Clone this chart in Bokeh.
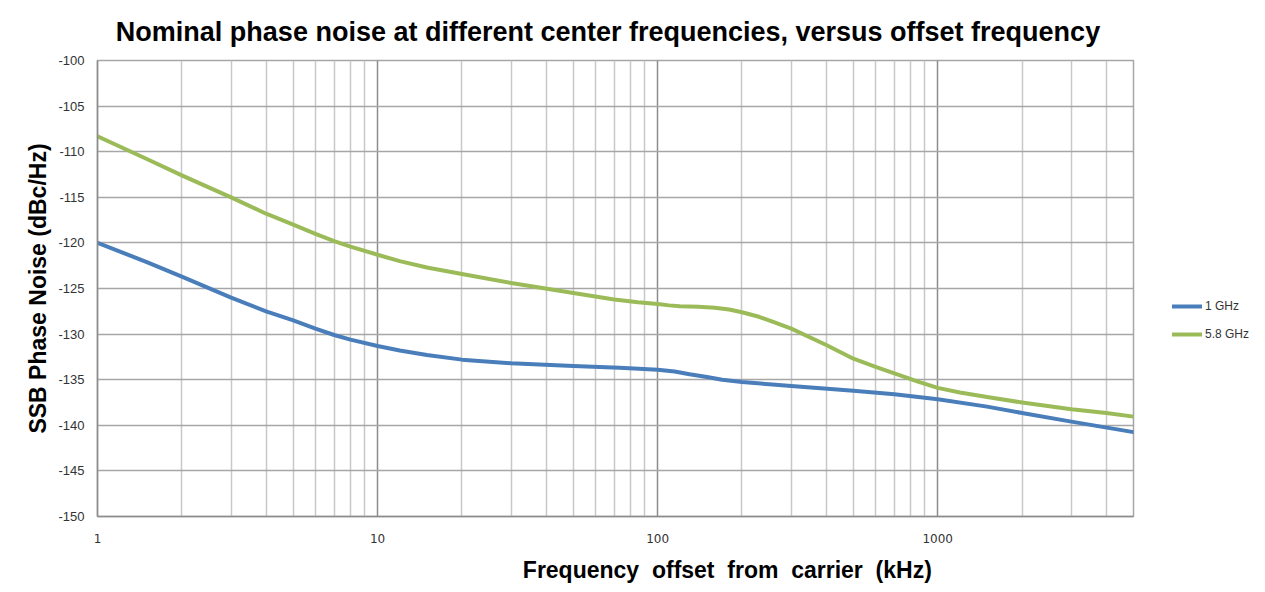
from bokeh.plotting import figure
from bokeh.models import FixedTicker, Legend, LegendItem, Title, ColumnDataSource
from bokeh.embed import file_html
from bokeh.resources import INLINE

# offset frequency (kHz) and SSB phase noise (dBc/Hz)
freq_1ghz = [1, 1.5, 2, 3, 4, 5, 6, 7, 8, 10, 12, 15, 20, 30, 50, 73, 100, 115, 130, 150, 170, 200, 250, 300, 500, 700, 1000, 1500, 2000, 3000, 5000]
pn_1ghz = [-120.0, -122.1, -123.7, -126.0, -127.5, -128.5, -129.4, -130.1, -130.6, -131.3, -131.8, -132.3, -132.8, -133.2, -133.5, -133.7, -133.9, -134.1, -134.4, -134.7, -135.0, -135.25, -135.5, -135.7, -136.2, -136.6, -137.15, -137.95, -138.65, -139.6, -140.75]

freq_58ghz = [1, 1.5, 2, 3, 4, 5, 6, 7, 8, 10, 12, 15, 20, 30, 50, 70, 85, 100, 110, 120, 140, 160, 180, 200, 230, 260, 300, 400, 500, 600, 730, 850, 1000, 1200, 1500, 2000, 3000, 4000, 5000]
pn_58ghz = [-108.3, -110.8, -112.6, -115.0, -116.8, -118.0, -119.0, -119.8, -120.4, -121.3, -122.0, -122.7, -123.4, -124.4, -125.5, -126.2, -126.5, -126.7, -126.85, -126.95, -127.0, -127.1, -127.3, -127.6, -128.1, -128.7, -129.4, -131.2, -132.7, -133.6, -134.5, -135.2, -135.9, -136.4, -136.9, -137.5, -138.25, -138.65, -139.05]

x_major = [1, 10, 100, 1000]
x_major_labels = ["1", "10", "100", "1000"]
x_minor = [2, 3, 4, 5, 6, 7, 8, 9, 20, 30, 40, 50, 60, 70, 80, 90,
           200, 300, 400, 500, 600, 700, 800, 900, 2000, 3000, 4000, 5000]
y_ticks = [-150, -145, -140, -135, -130, -125, -120, -115, -110, -105, -100]
y_tick_labels = ["-150", "-145", "-140", "-135", "-130", "-125", "-120", "-115", "-110", "-105", "-100"]

series_names = ["1 GHz", "5.8 GHz"]
series_colors = ["#4a7ebb", "#9bbb59"]

NB = "\u00a0"

p = figure(output_backend="svg", toolbar_location=None,
           x_axis_type="log", x_range=(1, 5000), y_range=(-150, -100),
           frame_width=1036, frame_height=456,
           min_border_left=97, min_border_right=116, min_border_top=60, min_border_bottom=60,
           background_fill_color="white", border_fill_color="white")

p.title = Title(text="Nominal phase noise at different center frequencies, versus offset frequency" + NB * 2,
                text_font="Liberation Sans", text_font_size="27px", text_font_style="bold",
                text_color="#000000", align="center", standoff=28)

p.xaxis.ticker = FixedTicker(ticks=x_major, minor_ticks=x_minor)
p.xaxis.major_label_overrides = {v: s for v, s in zip(x_major, x_major_labels)}
p.yaxis.ticker = FixedTicker(ticks=y_ticks)
p.yaxis.major_label_overrides = {v: s for v, s in zip(y_ticks, y_tick_labels)}

for ax in (p.xaxis[0], p.yaxis[0]):
    ax.major_tick_line_color = None
    ax.minor_tick_line_color = None
    ax.axis_line_color = "#8c8c8c"
    ax.axis_line_width = 1.5
    ax.major_label_text_color = "#333333"

p.yaxis.major_label_text_font = "Liberation Sans"
p.yaxis.major_label_text_font_size = "13px"
p.yaxis.major_label_standoff = 7
p.xaxis.major_label_text_font = "DejaVu Sans"
p.xaxis.major_label_text_font_size = "12px"
p.xaxis.major_label_standoff = 11

p.yaxis.axis_label = "SSB Phase Noise (dBc/Hz)"
p.yaxis.axis_label_text_font = "Liberation Sans"
p.yaxis.axis_label_text_font_size = "23px"
p.yaxis.axis_label_text_font_style = "bold"
p.yaxis.axis_label_text_color = "#000000"
p.yaxis.axis_label_standoff = 4

p.xaxis.axis_label = NB * 35 + "Frequency " + NB + "offset " + NB + "from " + NB + "carrier " + NB + "(kHz)"
p.xaxis.axis_label_text_font = "Liberation Sans"
p.xaxis.axis_label_text_font_size = "23px"
p.xaxis.axis_label_text_font_style = "bold"
p.xaxis.axis_label_text_color = "#000000"
p.xaxis.axis_label_standoff = 11

p.xgrid.grid_line_color = "#8c8c8c"
p.xgrid.minor_grid_line_color = "#c8c8c8"
p.xgrid.minor_grid_line_width = 1.5
p.xgrid.grid_line_width = 1.5
p.ygrid.grid_line_color = "#a6a6a6"
p.ygrid.grid_line_width = 1.5
p.outline_line_color = "#a6a6a6"
p.outline_line_width = 1.5

src1 = ColumnDataSource(dict(x=freq_1ghz, y=pn_1ghz))
src2 = ColumnDataSource(dict(x=freq_58ghz, y=pn_58ghz))
r1 = p.line("x", "y", source=src1, line_color=series_colors[0], line_width=4, line_join="round", line_cap="round")
r2 = p.line("x", "y", source=src2, line_color=series_colors[1], line_width=4, line_join="round", line_cap="round")

legend = Legend(items=[LegendItem(label=series_names[0], renderers=[r1]),
                       LegendItem(label=series_names[1], renderers=[r2])],
                location=(39, 172), padding=0, margin=0, spacing=8,
                glyph_width=30, glyph_height=20, label_height=20, label_standoff=3,
                label_text_font="Liberation Sans", label_text_font_size="12px",
                label_text_color="#333333",
                border_line_color=None, background_fill_alpha=0)
p.add_layout(legend, "right")

open("out.html", "w").write(file_html(p, INLINE))
